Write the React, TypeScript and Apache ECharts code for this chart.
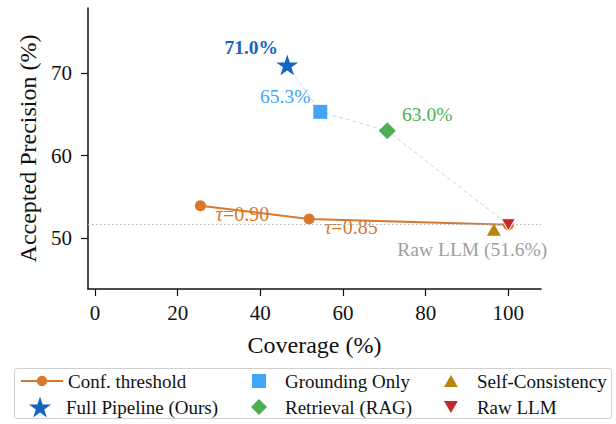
import React, { useEffect, useRef } from "react";
import * as echarts from "echarts";

// ---- data ----
const confCoverage = [25.5, 51.8, 100];
const confPrecision = [53.9, 52.3, 51.6];
const confLabels = ["0.90", "0.85", ""];

const methodNames = ["Full Pipeline (Ours)", "Grounding Only", "Retrieval (RAG)", "Self-Consistency", "Raw LLM"];
const methodCoverage = [46.5, 54.5, 70.7, 96.5, 100];
const methodPrecision = [71.0, 65.3, 63.0, 51.0, 51.6];

const pathNames = ["Full Pipeline (Ours)", "Grounding Only", "Retrieval (RAG)", "Raw LLM"];
const rawLLM = 51.6;

const xTicks = [0, 20, 40, 60, 80, 100];
const yTicks = [50, 60, 70];

// ---- styles ----
const FONT = "Liberation Serif";
const ORANGE = "#D9782D";
const colors: Record<string, string> = {
  "Full Pipeline (Ours)": "#1565C0",
  "Grounding Only": "#42A5F5",
  "Retrieval (RAG)": "#4CAF50",
  "Self-Consistency": "#B8860B",
  "Raw LLM": "#C62828",
};

function starPath(): string {
  const pts: string[] = [];
  for (let i = 0; i < 10; i++) {
    const r = i % 2 === 0 ? 1 : 0.382;
    const a = -Math.PI / 2 + (i * Math.PI) / 5;
    pts.push(`${(r * Math.cos(a)).toFixed(4)},${(r * Math.sin(a)).toFixed(4)}`);
  }
  return "path://M" + pts.join("L") + "Z";
}
const STAR = starPath();
const DOWN_TRI = "path://M0,0L2,0L1,1.732Z";
const UP_TRI = "path://M1,0L2,1.732L0,1.732Z";
const RECT = "path://M0,0L1,0L1,1L0,1Z";
const DIAMOND = "path://M1,0L2,1L1,2L0,1Z";

const symbols: Record<string, string> = {
  "Full Pipeline (Ours)": STAR,
  "Grounding Only": RECT,
  "Retrieval (RAG)": DIAMOND,
  "Self-Consistency": UP_TRI,
  "Raw LLM": DOWN_TRI,
};
const sizes: Record<string, number> = {
  "Full Pipeline (Ours)": 22,
  "Grounding Only": 14,
  "Retrieval (RAG)": 17,
  "Self-Consistency": 14,
  "Raw LLM": 14,
};

type Lbl = { text: string; offset: [number, number]; bold?: boolean; color: string } | null;
const labels: Record<string, Lbl> = {
  "Full Pipeline (Ours)": { text: "71.0%", offset: [-36, -17], bold: true, color: "#1565C0" },
  "Grounding Only": { text: "65.3%", offset: [-35, -15], color: "#42A5F5" },
  "Retrieval (RAG)": { text: "63.0%", offset: [40, -16], color: "#4CAF50" },
  "Self-Consistency": null,
  "Raw LLM": { text: "Raw LLM (51.6%)", offset: [-36, 25], color: "#9E9E9E" },
};

// legend layout: [name, left, row, icon, icon height]
const legendItems: [string, number, number, string | null, number][] = [
  ["Conf. threshold", 20, 0, null, 13],
  ["Full Pipeline (Ours)", 29, 1, STAR, 21],
  ["Grounding Only", 252, 0, RECT, 14],
  ["Retrieval (RAG)", 251, 1, DIAMOND, 16],
  ["Self-Consistency", 444, 0, UP_TRI, 12],
  ["Raw LLM", 444, 1, DOWN_TRI, 12],
];
const rowCenters = [381, 407];

export default function App() {
  const ref = useRef<HTMLDivElement>(null);
  useEffect(() => {
    if (!ref.current) return;
    const chart = echarts.init(ref.current, null, { renderer: "svg" });

    const pathData = pathNames.map((n) => {
      const i = methodNames.indexOf(n);
      return [methodCoverage[i], methodPrecision[i]];
    });

    const methodSeries = methodNames.map((n, i) => {
      const l = labels[n];
      return {
        name: n,
        type: "scatter",
        z: 5 + i,
        symbol: symbols[n],
        symbolSize: sizes[n],
        symbolKeepAspect: true,
        itemStyle: {
          color: colors[n],
          opacity: 1,
          borderColor: "#fff",
          borderWidth: n === "Raw LLM" ? 1 : 0,
        },
        data: [
          {
            value: [methodCoverage[i], methodPrecision[i]],
            label: l
              ? {
                  show: true,
                  position: "inside",
                  offset: l.offset,
                  formatter: l.text,
                  color: l.color,
                  fontFamily: FONT,
                  fontSize: 19.5,
                  fontWeight: l.bold ? "bold" : "normal",
                }
              : { show: false },
          },
        ],
      };
    });

    const LH = 22;
    const legends = legendItems.map(([name, left, row, icon, h]) => ({
      orient: "horizontal",
      itemWidth: 42,
      itemHeight: h,
      padding: 0,
      left,
      top: rowCenters[row] - Math.max(h, LH) / 2,
      textStyle: { fontFamily: FONT, fontSize: 19, color: "#111", lineHeight: LH },
      itemStyle: { borderWidth: 0 },
      z: 10,
      data: [icon ? { name, icon } : { name }],
    }));

    chart.setOption({
      animation: false,
      backgroundColor: "#fff",
      textStyle: { fontFamily: FONT },
      grid: { left: 88, top: 8, right: 75, bottom: 135 },
      xAxis: {
        type: "value",
        min: -1.7,
        max: 107.9,
        name: "Coverage (%)",
        nameLocation: "middle",
        nameGap: 44,
        nameTextStyle: { fontFamily: FONT, fontSize: 24, color: "#111" },
        splitLine: { show: false },
        axisLine: { show: true, onZero: false, lineStyle: { color: "#111", width: 1.5 } },
        axisTick: { show: true, length: 7, lineStyle: { color: "#111", width: 1.2 }, customValues: xTicks },
        axisLabel: { fontFamily: FONT, fontSize: 21, color: "#111", margin: 13, customValues: xTicks },
      },
      yAxis: {
        type: "value",
        min: 43.8,
        max: 77.9,
        name: "Accepted Precision (%)",
        nameLocation: "middle",
        nameGap: 47,
        nameRotate: 90,
        nameTextStyle: { fontFamily: FONT, fontSize: 24, color: "#111" },
        splitLine: { show: false },
        axisLine: { show: true, onZero: false, lineStyle: { color: "#111", width: 1.5 } },
        axisTick: { show: true, length: 7, lineStyle: { color: "#111", width: 1.2 }, customValues: yTicks },
        axisLabel: { fontFamily: FONT, fontSize: 21, color: "#111", margin: 16, customValues: yTicks },
      },
      legend: legends,
      graphic: [
        {
          type: "rect",
          shape: { x: 14.5, y: 368.5, width: 597, height: 50, r: 2 },
          style: { fill: "#fff", stroke: "#d0d0d0", lineWidth: 1 },
          z: 1,
          silent: true,
        },
      ],
      series: [
        {
          name: "path",
          type: "line",
          z: 1,
          silent: true,
          symbol: "none",
          lineStyle: { color: "#d4d4d4", width: 1, type: [4, 3] },
          data: pathData,
          markLine: {
            silent: true,
            symbol: "none",
            label: { show: false },
            lineStyle: { color: "#b0b0b0", width: 1, type: [1.5, 2.5] },
            data: [{ yAxis: rawLLM }],
          },
        },
        {
          name: "Conf. threshold",
          type: "line",
          z: 3,
          symbol: "circle",
          symbolSize: 11,
          color: ORANGE,
          lineStyle: { color: ORANGE, width: 2 },
          itemStyle: { color: ORANGE },
          data: confCoverage.map((c, i) => ({
            value: [c, confPrecision[i]],
            label: confLabels[i]
              ? {
                  show: true,
                  position: "inside",
                  offset: [42, 8],
                  formatter: `{i|τ}=${confLabels[i]}`,
                  color: ORANGE,
                  fontFamily: FONT,
                  fontSize: 20,
                  rich: { i: { fontStyle: "italic", fontFamily: FONT, fontSize: 20, color: ORANGE } },
                }
              : { show: false },
          })),
        },
        ...methodSeries,
      ],
    });
    return () => chart.dispose();
  }, []);
  return <div ref={ref} style={{ position: "fixed", left: 0, top: 0, width: 616, height: 424 }} />;
}
